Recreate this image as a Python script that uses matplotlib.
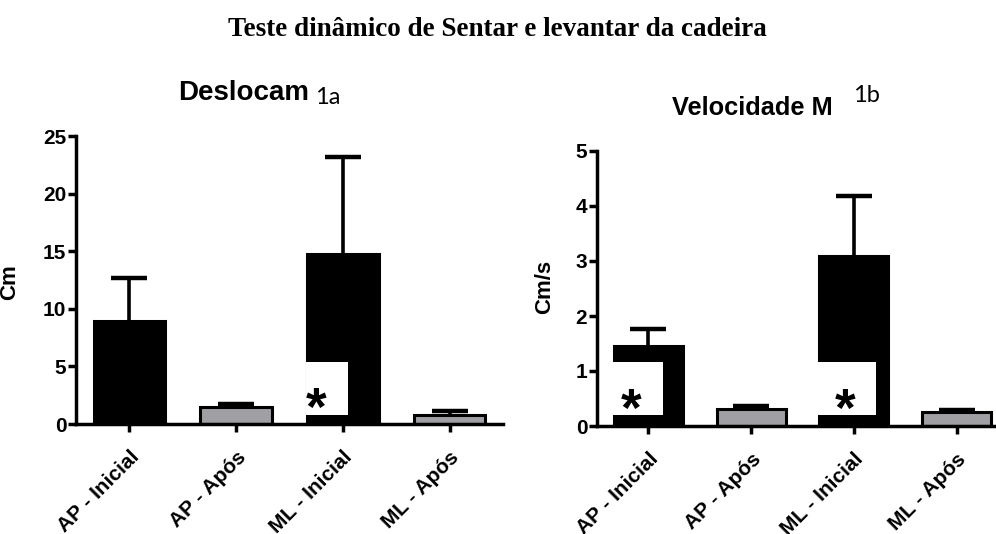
import matplotlib.pyplot as plt
import matplotlib.transforms as mtransforms
from matplotlib.patches import Rectangle

plt.rcParams['font.family'] = ['Liberation Sans', 'DejaVu Sans']
plt.rcParams['font.weight'] = 'bold'
plt.rcParams['axes.labelweight'] = 'bold'

# dados
grupos = ["AP - Inicial", "AP - Após", "ML - Inicial", "ML - Após"]
cores = ["black", "#a0a0a4", "black", "#a0a0a4"]

desloc_media = [8.96, 1.46, 14.77, 0.78]
desloc_dp = [3.71, 0.25, 8.43, 0.35]

vel_media = [1.46, 0.31, 3.09, 0.25]
vel_dp = [0.31, 0.05, 1.09, 0.035]

W, H = 996, 534
fig = plt.figure(figsize=(W / 100, H / 100), dpi=100)


def painel(ax, medias, dps, ymax, passo, ylabel, label_xy):
    x = list(range(len(grupos)))
    ax.bar(x, medias, width=0.67, color=cores, edgecolor="black", linewidth=2.2, zorder=2)
    eb = ax.errorbar(x, medias, yerr=[[0] * len(dps), dps], fmt="none", ecolor="black",
                     elinewidth=2.6, capsize=13, capthick=3.2, zorder=1.5)
    eb[1][0].set_visible(False)  # sem traco inferior

    ax.set_xlim(-0.5, 3.5)
    ax.set_ylim(0, ymax)
    ax.set_yticks(range(0, ymax + 1, passo))
    ax.set_xticks(x)
    ax.set_xticklabels(grupos, rotation=45, ha="right", rotation_mode="anchor", fontsize=15)
    off = mtransforms.ScaledTranslation(5 / 100, 0, fig.dpi_scale_trans)
    for lab in ax.get_xticklabels():
        lab.set_transform(lab.get_transform() + off)
    ax.tick_params(axis="y", width=2.5, length=6, pad=1, labelsize=15)
    ax.tick_params(axis="x", width=2.5, length=6, pad=11)
    for s in ["top", "right"]:
        ax.spines[s].set_visible(False)
    for s in ["left", "bottom"]:
        ax.spines[s].set_linewidth(2.5)
    ax.set_ylabel(ylabel, fontsize=16)
    ax.yaxis.set_label_coords(*label_xy)


ax1 = fig.add_axes([76 / W, 110 / H, 427 / W, 288 / H])
painel(ax1, desloc_media, desloc_dp, 25, 5, "Cm", (-0.131, 0.493))

ax2 = fig.add_axes([597 / W, 108 / H, 411 / W, 275 / H])
painel(ax2, vel_media, vel_dp, 5, 1, "Cm/s", (-0.102, 0.505))

# caixas brancas coladas por cima das barras, com asterisco
ax1.add_patch(Rectangle((1.65, 0.78), 0.40, 4.63, facecolor="white", edgecolor="none", zorder=3))
ax1.text(1.75, 3.3, "*", fontsize=38, ha="center", va="top", zorder=4)

for ax, x0, larg in [(ax2, -0.35, 0.49), (ax2, 1.64, 0.58)]:
    ax.add_patch(Rectangle((x0, 0.2), larg, 0.96, facecolor="white", edgecolor="none", zorder=3))
ax2.text(-0.17, 0.71, "*", fontsize=38, ha="center", va="top", zorder=4)
ax2.text(1.91, 0.71, "*", fontsize=38, ha="center", va="top", zorder=4)

# titulos
fig.text(497 / W, 1 - 30 / H, "Teste dinâmico de Sentar e levantar da cadeira",
         family="Liberation Serif", fontsize=19.5, ha="center", va="center")
fig.text(178 / W, 1 - 100 / H, "Deslocam", fontsize=20, ha="left", va="baseline")
fig.text(315 / W, 1 - 104 / H, "1a", family="Lato", weight="normal", fontsize=17,
         ha="left", va="baseline")
fig.text(672 / W, 1 - 115 / H, "Velocidade M", fontsize=18.3, ha="left", va="baseline")
fig.text(853 / W, 1 - 102 / H, "1b", family="Lato", weight="normal", fontsize=17,
         ha="left", va="baseline")

fig.savefig("out.png", dpi=100)
